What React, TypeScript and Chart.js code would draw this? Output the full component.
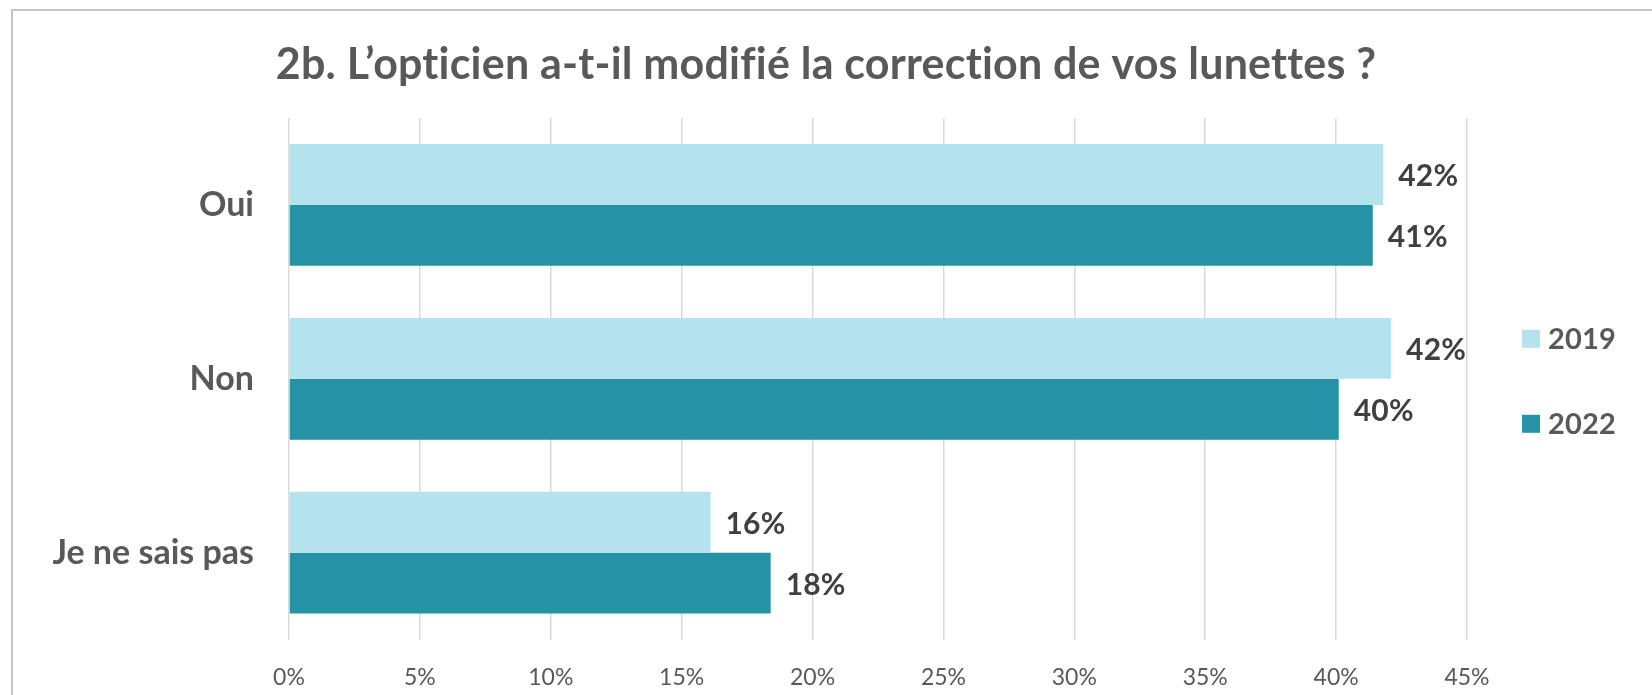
import React, { useEffect, useRef } from "react";
import { Chart, registerables } from "chart.js";

Chart.register(...registerables);

const TITLE = "2b. L’opticien a-t-il modifié la correction de vos lunettes ?";
const categories = ["Oui", "Non", "Je ne sais pas"];
const seriesLabels = ["2019", "2022"];
const values2019 = [41.8, 42.1, 16.1];
const values2022 = [41.4, 40.1, 18.4];
const xTicksMax = 45;
const xTickStep = 5;

const FONT = "Lato, 'Open Sans', sans-serif";
const C_LIGHT = "#B4E3EE";
const C_DARK = "#2692A6";
const TEXT = "#595959";
const LABEL = "#404040";

const overlayPlugin = {
  id: "overlay",
  afterDatasetsDraw(chart: any) {
    const ctx = chart.ctx;
    const area = chart.chartArea;
    ctx.save();
    try { (ctx as any).letterSpacing = "0.2px"; } catch (e) {}
    // data labels
    ctx.font = `bold 30px ${FONT}`;
    ctx.fillStyle = LABEL;
    ctx.textAlign = "left";
    ctx.textBaseline = "middle";
    chart.data.datasets.forEach((ds: any, di: number) => {
      const meta = chart.getDatasetMeta(di);
      meta.data.forEach((bar: any, i: number) => {
        const v = ds.data[i];
        ctx.fillText(Math.round(v) + "%", bar.x + 15, bar.y + 2);
      });
    });
    // title
    ctx.font = `bold 43px ${FONT}`;
    ctx.fillStyle = TEXT;
    ctx.textAlign = "center";
    ctx.fillText(TITLE, chart.width / 2, 65);
    // legend
    const cy = (area.top + area.bottom) / 2 + 2.5;
    const gap = 85;
    chart.data.datasets.forEach((ds: any, di: number) => {
      const y = cy + (di - 0.5) * gap;
      const x = area.right + 55;
      ctx.fillStyle = ds.backgroundColor;
      ctx.fillRect(x, y - 9, 18, 18);
      ctx.font = `bold 29px ${FONT}`;
      ctx.fillStyle = TEXT;
      ctx.textAlign = "left";
      ctx.fillText(ds.label, x + 26, y + 1);
    });
    ctx.restore();
  },
};

export default function App() {
  const ref = useRef<HTMLCanvasElement | null>(null);
  useEffect(() => {
    if (!ref.current) return;
    const chart = new Chart(ref.current, {
      type: "bar",
      data: {
        labels: categories,
        datasets: [
          { label: seriesLabels[0], data: values2019, backgroundColor: C_LIGHT, categoryPercentage: 0.7, barPercentage: 1.0 },
          { label: seriesLabels[1], data: values2022, backgroundColor: C_DARK, categoryPercentage: 0.7, barPercentage: 1.0 },
        ],
      },
      options: {
        indexAxis: "y",
        responsive: false,
        animation: false,
        devicePixelRatio: 1,
        layout: { padding: { top: 118, right: 185, bottom: 0, left: 0 } },
        plugins: { legend: { display: false }, title: { display: false }, tooltip: { enabled: false } },
        scales: {
          x: {
            min: 0,
            max: xTicksMax,
            ticks: {
              stepSize: xTickStep,
              callback: (v: any) => v + "%",
              color: TEXT,
              font: { family: FONT, size: 23 },
              padding: 24,
            },
            grid: { color: "#d9d9d9", lineWidth: 1.5, drawTicks: false },
            border: { display: false },
            afterFit: (s: any) => { s.height = 55; },
          },
          y: {
            ticks: {
              color: TEXT,
              font: { family: FONT, size: 34, weight: "bold" },
              padding: 35,
            },
            grid: { display: false, drawTicks: false },
            border: { display: false },
            afterFit: (s: any) => { s.width = 289; },
          },
        },
      },
      plugins: [overlayPlugin],
    });
    return () => chart.destroy();
  }, []);
  return (
    <div style={{ position: "fixed", left: 0, top: 0, width: 1652, height: 695, overflow: "hidden", background: "#fff" }}>
      <div style={{ position: "absolute", left: 11, top: 9, width: 1700, height: 800, border: "2px solid #c4c4c4" }} />
      <canvas ref={ref} width={1652} height={695} style={{ position: "absolute", left: 0, top: 0, width: 1652, height: 695 }} />
    </div>
  );
}
